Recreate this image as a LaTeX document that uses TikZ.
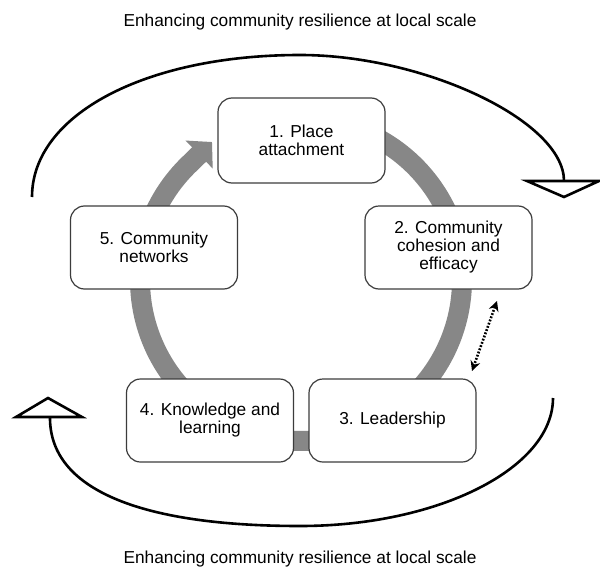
\documentclass[tikz,border=0pt]{standalone}
\usepackage{fontspec}
\setmainfont{Liberation Sans}
\usetikzlibrary{arrows.meta}
\definecolor{ringgray}{RGB}{135,135,135}
\definecolor{boxline}{RGB}{60,60,60}
\begin{document}
\begin{tikzpicture}[x=1pt,y=-1pt,
  box/.style={draw=boxline, line width=1.2pt, rounded corners=14pt, fill=white,
    minimum width=167pt, minimum height=84pt, align=center, inner sep=0pt,
    font=\fontsize{17.3}{18}\selectfont},
  titletext/.style={anchor=base, inner sep=0pt, font=\fontsize{17.3}{18}\selectfont},
  loopline/.style={line width=2.6pt, draw=black},
  opentri/.style={line width=2.6pt, draw=black, fill=white, line join=miter},
  ringline/.style={line width=20pt, draw=ringgray, line join=round},
  dotarrow/.style={line width=2.6pt, dash pattern=on 1.8pt off 1.6pt,
    {Stealth[length=10pt,width=10pt]}-{Stealth[length=10pt,width=10pt]}}]
\useasboundingbox[fill=white] (0,0) rectangle (600,570);

% outer loop arcs
\coordinate (topL) at (32,197);
\coordinate (topM) at (300,55);
\coordinate (topR) at (564,181);
\draw[loopline] (topL) .. controls (32,115) and (145,55) .. (topM)
  .. controls (424,55) and (564,121) .. (topR);
\draw[opentri] (527,181) -- (599,181) -- (564,197) -- cycle;

\coordinate (botR) at (553,398);
\coordinate (botM) at (300,526);
\coordinate (botL) at (50,418);
\draw[loopline] (botR) .. controls (553,468) and (439,526) .. (botM)
  .. controls (137,526) and (50,488) .. (botL);
\draw[opentri] (16,417) -- (82,417) -- (48,398) -- cycle;

% inner grey ring
\coordinate (ringtip) at (212,142);
\draw[ringline, -{Triangle[length=18pt,width=38pt]}]
  plot[domain=-70:225, samples=160] ({301+161*cos(\x)},{280+161*sin(\x)}) -- (ringtip);

% boxes
\node[box, minimum height=85pt] (b1) at (301.5,140.5) {1. Place\\attachment};
\node[box, minimum height=83pt] (b2) at (448.5,247.5) {2. Community\\cohesion and\\efficacy};
\node[box, minimum height=83pt] (b5) at (154,247.5) {5. Community\\networks};
\node[box, minimum height=83pt] (b4) at (210,420.5) {4. Knowledge and\\learning};
\node[box, minimum height=83pt] (b3) at (392.5,420.5) {3. Leadership};

% dotted double arrow between 2 and 3
\coordinate (d1) at (497,301);
\coordinate (d2) at (472,371);
\draw[dotarrow] (d1) -- (d2);

% titles
\node[titletext] (ttop) at (300,26.5) {Enhancing community resilience at local scale};
\node[titletext] (tbot) at (300,563) {Enhancing community resilience at local scale};
\end{tikzpicture}
\end{document}
